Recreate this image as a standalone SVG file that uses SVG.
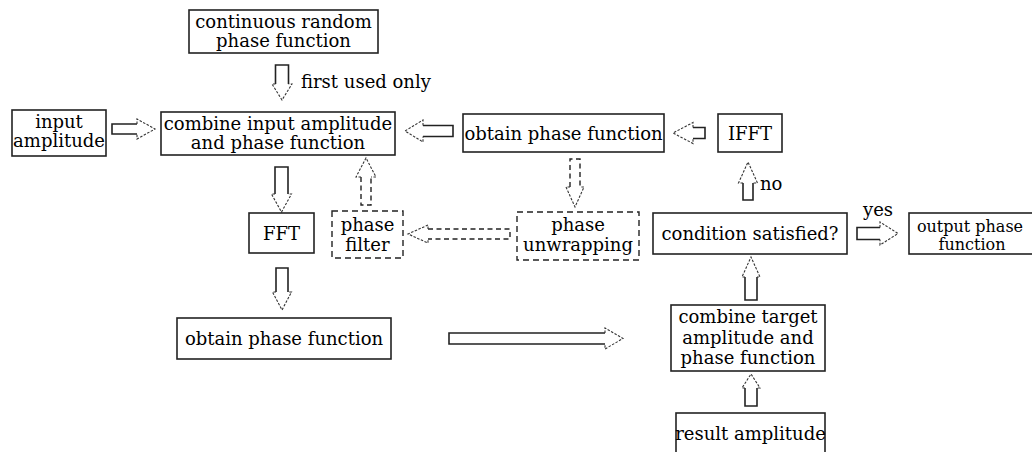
<svg xmlns="http://www.w3.org/2000/svg" width="1032" height="452" viewBox="0 0 1032 452">
<style>
.box{fill:#fff;stroke:#222;stroke-width:1.6}
.dbox{fill:#fff;stroke:#222;stroke-width:1.4;stroke-dasharray:6 4}
.t{font-family:"DejaVu Serif","Liberation Serif",serif;font-size:18px;fill:#000;text-anchor:middle}
.l{font-family:"DejaVu Serif","Liberation Serif",serif;font-size:18px;fill:#000}
.s{font-size:16px}
.shaft{fill:none;stroke:#222;stroke-width:1.6}
.head{fill:none;stroke:#333;stroke-width:1.1;stroke-dasharray:2.5 1.5}
.dshaft{fill:none;stroke:#222;stroke-width:1.4;stroke-dasharray:5 3.5}
</style>
<rect width="1032" height="452" fill="#fff"/>
<g id="connectors">
<path class="shaft" d="M275.5,84 V65 H288.5 V84"/>
<path class="head" d="M275.5,84 H272 L282,100 L292,84 H288.5"/>
<path class="shaft" d="M137,124 H112 V134 H137"/>
<path class="head" d="M137,124 V119 L155,129 L137,139 V134"/>
<path class="shaft" d="M423,125.5 H453 V136.5 H423"/>
<path class="head" d="M423,125.5 V120 L405,131 L423,142 V136.5"/>
<path class="shaft" d="M693,127.5 H705 V138.5 H693"/>
<path class="head" d="M693,127.5 V122.5 L673,133 L693,143.5 V138.5"/>
<path class="shaft" d="M275,194 V167 H288 V194"/>
<path class="head" d="M275,194 H271.5 L281.5,212 L291.5,194 H288"/>
<path class="shaft" d="M276,292 V268 H288 V292"/>
<path class="head" d="M276,292 H272.5 L282,310 L291.5,292 H288"/>
<path class="dshaft" d="M361,177 V205 H371 V177"/>
<path class="head" d="M361,177 H356 L366,158 L376,177 H371"/>
<path class="dshaft" d="M570,187 V159 H580 V187"/>
<path class="head" d="M570,187 H566 L575,207 L584,187 H580"/>
<path class="dshaft" d="M428,229 H510 V239 H428"/>
<path class="head" d="M428,229 V225 L408,234 L428,243 V239"/>
<path class="shaft" d="M605,333 H449 V344 H605"/>
<path class="head" d="M605,333 V328 L623,338.5 L605,349 V344"/>
<path class="shaft" d="M743,183 V200 H753 V183"/>
<path class="head" d="M743,183 H738.5 L748,162 L757.5,183 H753"/>
<path class="shaft" d="M880,227.5 H857 V239.5 H880"/>
<path class="head" d="M880,227.5 V222 L898,233.5 L880,245 V239.5"/>
<path class="shaft" d="M745,277 V300 H757 V277"/>
<path class="head" d="M745,277 H742 L751,257 L760,277 H757"/>
<path class="shaft" d="M745,388 V406 H757 V388"/>
<path class="head" d="M745,388 H742 L751,374 L760,388 H757"/>
</g>
<text class="l" x="301" y="88">first used only</text>
<text class="l" x="760" y="190">no</text>
<text class="l" x="863" y="216">yes</text>
<g id="n-continuous">
<rect class="box" x="189" y="10" width="189" height="43"/>
<text class="t" x="283.5" y="28">continuous random</text>
<text class="t" x="283.5" y="47">phase function</text>
</g>
<g id="n-input">
<rect class="box" x="12" y="110" width="94" height="46"/>
<text class="t" x="59" y="128">input</text>
<text class="t" x="59" y="147">amplitude</text>
</g>
<g id="n-combine-input">
<rect class="box" x="161" y="112" width="234" height="43"/>
<text class="t" x="278" y="130">combine input amplitude</text>
<text class="t" x="278" y="149">and phase function</text>
</g>
<g id="n-obtain-top">
<rect class="box" x="463" y="114" width="201" height="38"/>
<text class="t" x="563.5" y="140">obtain phase function</text>
</g>
<g id="n-ifft">
<rect class="box" x="718" y="114" width="64" height="38"/>
<text class="t" x="750" y="140">IFFT</text>
</g>
<g id="n-fft">
<rect class="box" x="249" y="213" width="65" height="40"/>
<text class="t" x="281.5" y="240">FFT</text>
</g>
<g id="n-phase-filter">
<rect class="dbox" x="332" y="211" width="71" height="47"/>
<text class="t" x="367.5" y="231">phase</text>
<text class="t" x="367.5" y="251">filter</text>
</g>
<g id="n-phase-unwrapping">
<rect class="dbox" x="517" y="212" width="122" height="48"/>
<text class="t" x="578" y="231">phase</text>
<text class="t" x="578" y="251">unwrapping</text>
</g>
<g id="n-condition">
<rect class="box" x="653" y="213" width="194" height="41"/>
<text class="t" x="750" y="240">condition satisfied?</text>
</g>
<g id="n-output">
<rect class="box" x="909" y="213" width="130" height="41"/>
<text class="t s" x="970" y="232">output phase</text>
<text class="t s" x="972" y="250">function</text>
</g>
<g id="n-obtain-bottom">
<rect class="box" x="177" y="318" width="214" height="41"/>
<text class="t" x="284" y="345">obtain phase function</text>
</g>
<g id="n-combine-target">
<rect class="box" x="671" y="305" width="154" height="66"/>
<text class="t" x="748" y="323">combine target</text>
<text class="t" x="748" y="344">amplitude and</text>
<text class="t" x="748" y="364">phase function</text>
</g>
<g id="n-result">
<rect class="box" x="676" y="413" width="149" height="45"/>
<text class="t" x="750.5" y="440">result amplitude</text>
</g>
</svg>
